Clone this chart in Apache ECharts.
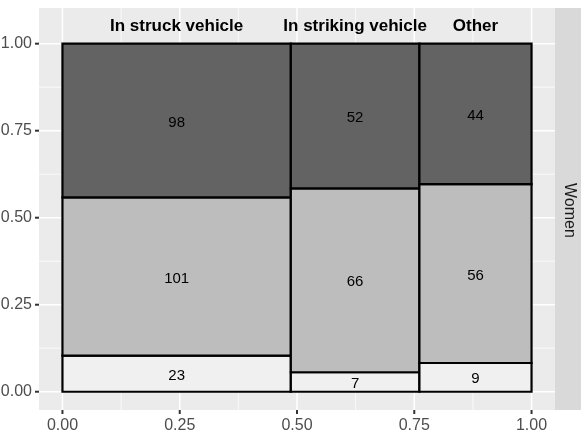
<!DOCTYPE html>
<html><head><meta charset="utf-8">
<script src="https://cdn.jsdelivr.net/npm/echarts@6/dist/echarts.min.js"></script>
<style>html,body{margin:0;padding:0;background:#fff}#c{width:581px;height:435px}</style>
</head><body><div id="c"></div>
<script>
// ---- data ----
const categories = ['In struck vehicle', 'In striking vehicle', 'Other'];
const countsBottom = [23, 7, 9];
const countsMiddle = [101, 66, 56];
const countsTop = [98, 52, 44];
const tickValues = [0, 0.25, 0.5, 0.75, 1];
const tickLabels = ['0.00', '0.25', '0.50', '0.75', '1.00'];
const facetLabel = 'Women';
const headerY = 1.05;

// ---- styles ----
const fills = ['#f0f0f0', '#bdbdbd', '#636363'];
const FONT = 'Liberation Sans, Arial, Helvetica, sans-serif';

// ---- build mosaic rectangles ----
const layers = [countsBottom, countsMiddle, countsTop];
const colTotals = categories.map((c, i) => layers.reduce((s, l) => s + l[i], 0));
const grand = colTotals.reduce((a, b) => a + b, 0);
const rectData = [];
const headerData = [];
let xc = 0;
categories.forEach((c, i) => {
  const w = colTotals[i] / grand;
  let yc = 0;
  layers.forEach((l, k) => {
    const h = l[i] / colTotals[i];
    rectData.push([xc, xc + w, yc, yc + h, l[i], k]);
    yc += h;
  });
  headerData.push([xc + w / 2, headerY, c]);
  xc += w;
});

// gridlines: major at ticks, minor half-way
const step = tickValues[1] - tickValues[0];
const minorValues = tickValues.slice(0, -1).map(v => v + step / 2);
const gridData = [];
tickValues.forEach(v => { gridData.push([0, v, 1]); gridData.push([1, v, 1]); });
minorValues.forEach(v => { gridData.push([0, v, 0]); gridData.push([1, v, 0]); });
const tickData = [];
tickValues.forEach(v => { tickData.push([0, v]); tickData.push([1, v]); });

const labelFmt = v => { const i = tickValues.findIndex(t => Math.abs(t - v) < 1e-9); return i >= 0 ? tickLabels[i] : ''; };

const chart = echarts.init(document.getElementById('c'));
chart.setOption({
  animation: false,
  backgroundColor: '#ffffff',
  grid: { left: 39, right: 26, top: 8, bottom: 25, show: true, backgroundColor: '#ebebeb', borderWidth: 0,
    containLabel: false, outerBoundsMode: 'none' },
  xAxis: {
    type: 'value', min: -0.05, max: 1.05,
    axisLine: { show: false },
    splitLine: { show: false },
    axisTick: { show: false },
    axisLabel: { customValues: tickValues, formatter: labelFmt,
      color: '#4d4d4d', fontSize: 16, fontFamily: FONT, margin: 8 }
  },
  yAxis: {
    type: 'value', min: -0.0525, max: 1.1025,
    axisLine: { show: false },
    splitLine: { show: false },
    axisTick: { show: false },
    axisLabel: { customValues: tickValues, formatter: labelFmt,
      color: '#4d4d4d', fontSize: 16, fontFamily: FONT, margin: 7 }
  },
  graphic: [
    { type: 'rect', right: 0, top: 8, shape: { width: 26, height: 402 }, style: { fill: '#d9d9d9' }, z: 0 },
    { type: 'text', left: 561, top: 183, rotation: -Math.PI / 2, originX: 0, originY: 0,
      style: { text: facetLabel, fill: '#1a1a1a', font: '16px ' + FONT } }
  ],
  series: [
    {
      type: 'custom', z: 1, clip: false, silent: true,
      data: gridData,
      renderItem: (params, api) => {
        const cs = params.coordSys;
        const dir = api.value(0), v = api.value(1), major = api.value(2);
        const lw = major ? 1.5 : 0.75;
        if (dir === 0) {
          const p = api.coord([v, 0]);
          return { type: 'line', shape: { x1: p[0], y1: cs.y, x2: p[0], y2: cs.y + cs.height }, style: { stroke: '#ffffff', lineWidth: lw } };
        } else {
          const p = api.coord([0, v]);
          return { type: 'line', shape: { x1: cs.x, y1: p[1], x2: cs.x + cs.width, y2: p[1] }, style: { stroke: '#ffffff', lineWidth: lw } };
        }
      }
    },
    {
      type: 'custom', z: 1, clip: false, silent: true,
      data: tickData,
      renderItem: (params, api) => {
        const cs = params.coordSys;
        const dir = api.value(0), v = api.value(1);
        if (dir === 0) {
          const p = api.coord([v, 0]);
          const yb = cs.y + cs.height;
          return { type: 'line', shape: { x1: p[0], y1: yb, x2: p[0], y2: yb + 4 }, style: { stroke: '#333333', lineWidth: 2 } };
        } else {
          const p = api.coord([0, v]);
          return { type: 'line', shape: { x1: cs.x - 4, y1: p[1], x2: cs.x, y2: p[1] }, style: { stroke: '#333333', lineWidth: 2 } };
        }
      }
    },
    {
      type: 'custom', z: 2, clip: false, silent: true,
      data: rectData,
      renderItem: (params, api) => {
        const p0 = api.coord([api.value(0), api.value(2)]);
        const p1 = api.coord([api.value(1), api.value(3)]);
        const k = api.value(5);
        return {
          type: 'group', children: [
            { type: 'rect', shape: { x: p0[0], y: p1[1], width: p1[0] - p0[0], height: p0[1] - p1[1] },
              style: { fill: fills[k], stroke: '#000000', lineWidth: 2.2 } },
            { type: 'text', z2: 10, style: { text: String(api.value(4)), x: (p0[0] + p1[0]) / 2, y: (p0[1] + p1[1]) / 2 + 2,
              align: 'center', verticalAlign: 'middle', fill: '#000000', font: '15px ' + FONT } }
          ]
        };
      }
    },
    {
      type: 'custom', z: 3, clip: false, silent: true,
      data: headerData,
      renderItem: (params, api) => {
        const p = api.coord([api.value(0), api.value(1)]);
        return { type: 'text', style: { text: headerData[params.dataIndex][2], x: p[0], y: p[1],
          align: 'center', verticalAlign: 'middle', fill: '#000000', font: 'bold 17px ' + FONT } };
      }
    }
  ]
});
</script></body></html>
